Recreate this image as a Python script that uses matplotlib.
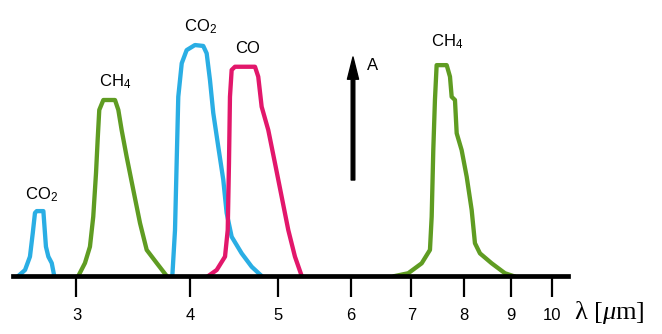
import matplotlib.pyplot as plt
from matplotlib.ticker import FixedLocator, FixedFormatter, NullLocator

plt.rcParams['font.family'] = ['Liberation Sans', 'DejaVu Sans']
plt.rcParams['mathtext.fontset'] = 'custom'
plt.rcParams['mathtext.rm'] = 'Liberation Sans'
plt.rcParams['mathtext.it'] = 'Liberation Serif:italic'

# absorption bands: wavelength (um) and relative absorbance A
co2_small_wl = [2.589, 2.634, 2.667, 2.686, 2.701, 2.713, 2.759, 2.765, 2.777, 2.794, 2.818, 2.836]
co2_small_a = [0, 2.6, 8.4, 18.6, 27.3, 28.1, 28.1, 22.9, 12.7, 8.4, 5.6, 0]

ch4_short_wl = [3.014, 3.065, 3.104, 3.130, 3.152, 3.165, 3.178, 3.211, 3.307, 3.335,
                3.363, 3.406, 3.464, 3.523, 3.583, 3.675, 3.769]
ch4_short_a = [0, 5.6, 12.7, 25.7, 44.6, 58.9, 71.9, 76.2, 76.2, 71.9,
               63.2, 51.6, 37.2, 22.9, 11.3, 5.6, 0]

co2_big_wl = [3.823, 3.849, 3.865, 3.881, 3.915, 3.964, 4.048, 4.134, 4.170, 4.205,
              4.240, 4.294, 4.349, 4.386, 4.442, 4.556, 4.673, 4.792]
co2_big_a = [0, 19.9, 48.9, 77.6, 92.1, 97.8, 100, 99.6, 96.4, 84.8,
             70.6, 56.0, 41.6, 27.3, 17.0, 9.8, 4.0, 0]

co_wl = [4.187, 4.277, 4.368, 4.398, 4.412, 4.423, 4.442, 4.479, 4.712, 4.751,
         4.792, 4.873, 4.956, 5.041, 5.126, 5.213, 5.303]
co_a = [0, 2.6, 8.4, 19.9, 48.9, 77.6, 89.2, 90.6, 90.6, 86.3,
        73.3, 63.2, 48.9, 34.3, 19.9, 8.4, 0]

ch4_long_wl = [6.714, 6.943, 7.183, 7.335, 7.367, 7.397, 7.428, 7.460, 7.652, 7.716,
               7.749, 7.814, 7.848, 7.947, 8.049, 8.151, 8.219, 8.324, 8.574, 8.867, 9.055]
ch4_long_a = [0, 1.2, 5.5, 11.3, 25.7, 54.5, 76.2, 91.3, 91.3, 86.3,
              77.6, 76.2, 61.8, 54.5, 43.0, 28.6, 14.2, 9.8, 5.5, 1.2, 0]

tick_wl = [3, 4, 5, 6, 7, 8, 9, 10]

# gas labels
label_txt = ['CO$_2$', 'CH$_4$', 'CO$_2$', 'CO', 'CH$_4$']
label_wl = [2.749, 3.307, 4.110, 4.629, 7.657]
label_a = [35.1, 84.0, 107.8, 98.3, 101.3]

blue = '#2aaee4'
green = '#5f9c22'
magenta = '#e2176b'

fig = plt.figure(figsize=(6.62, 3.34), dpi=100)
ax = fig.add_axes([13 / 662, 58 / 334, 555 / 662, 276 / 334])

lw = 3.1
ax.plot(co2_small_wl, co2_small_a, color=blue, lw=lw, solid_joinstyle='round')
ax.plot(ch4_short_wl, ch4_short_a, color=green, lw=lw, solid_joinstyle='round')
ax.plot(co2_big_wl, co2_big_a, color=blue, lw=lw, solid_joinstyle='round')
ax.plot(co_wl, co_a, color=magenta, lw=lw, solid_joinstyle='round')
ax.plot(ch4_long_wl, ch4_long_a, color=green, lw=lw, solid_joinstyle='round')

for t, x, y in zip(label_txt, label_wl, label_a):
    ax.text(x, y, t, ha='center', va='center', fontsize=12)

ax.set_xscale('log')
ax.set_xlim(2.555, 10.40)
ax.set_ylim(0, 119.5)

ax.xaxis.set_major_locator(FixedLocator(tick_wl))
ax.xaxis.set_major_formatter(FixedFormatter([str(v) for v in tick_wl]))
ax.xaxis.set_minor_locator(NullLocator())
ax.tick_params(axis='x', direction='out', length=15, width=1.6, pad=8,
               labelsize=12, colors='black')
ax.set_yticks([])

for s in ['top', 'right', 'left']:
    ax.spines[s].set_visible(False)
ax.spines['bottom'].set_linewidth(3.4)

# absorbance arrow
ax.annotate('', xy=(0.6126, 0.7935), xytext=(0.6126, 0.3478), xycoords='axes fraction',
            arrowprops=dict(facecolor='black', edgecolor='black', width=2.6,
                            headwidth=8, headlength=16, shrink=0))
ax.text(0.647, 0.764, 'A', transform=ax.transAxes, ha='center', va='center', fontsize=12)

fig.text(574 / 662, 1 - 313 / 334, 'λ [$\\mu$m]', ha='left', va='center',
         fontsize=19, family=['Liberation Serif', 'DejaVu Serif'])

fig.savefig('out.png', dpi=100)
